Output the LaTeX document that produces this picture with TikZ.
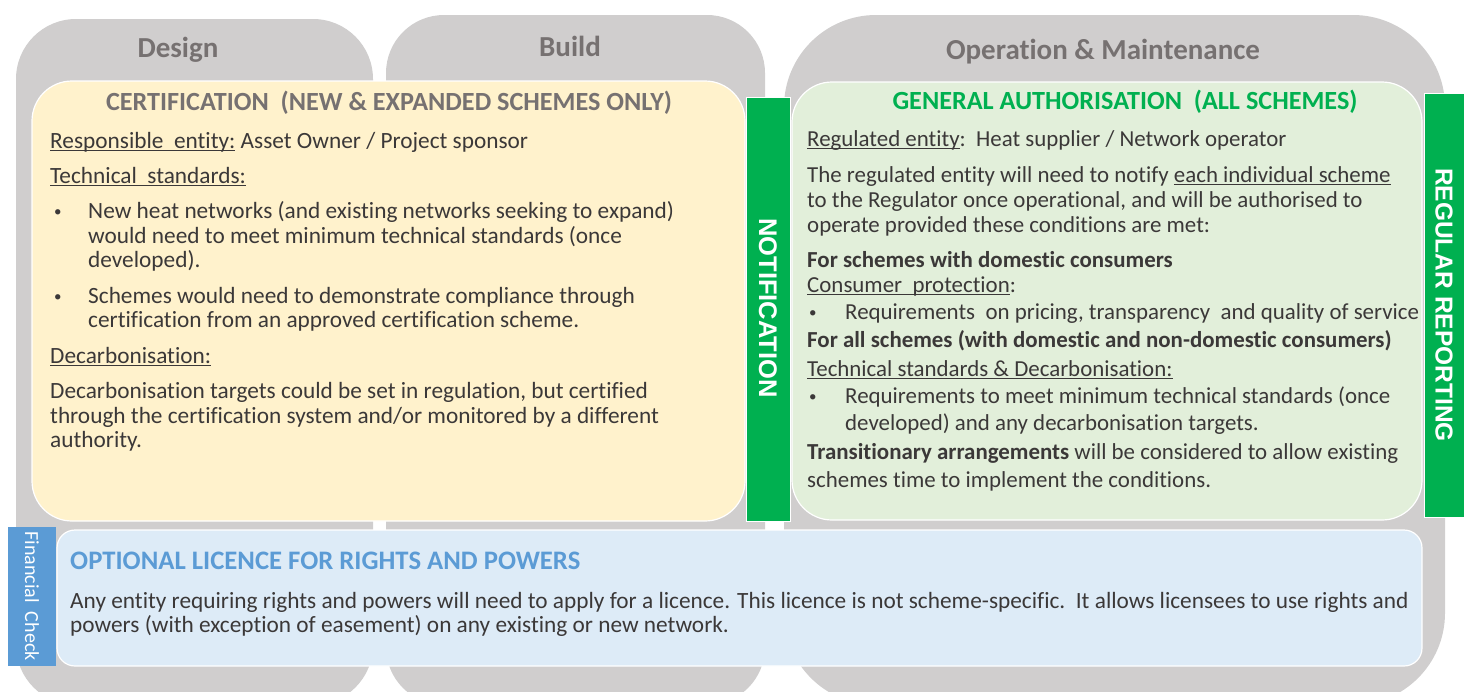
\documentclass[tikz,border=0pt]{standalone}
\usepackage{fontspec}
\setmainfont{Carlito}[Ligatures={NoCommon}]
\newfontfamily\barfont{Liberation Sans}
\definecolor{tabgray}{HTML}{D0CECE}
\definecolor{headgray}{HTML}{767171}
\definecolor{bodytxt}{HTML}{3B3838}
\definecolor{certyel}{HTML}{FFF2CC}
\definecolor{authgrn}{HTML}{E2EFDA}
\definecolor{licblue}{HTML}{DDEBF7}
\definecolor{bargrn}{HTML}{00B050}
\definecolor{fcblue}{HTML}{5B9BD5}
\newcommand{\myul}[1]{\setbox0\hbox{#1}\rlap{\rule[-3pt]{\wd0}{0.9pt}}\box0\relax}
\newcommand{\smbul}{\raisebox{1.5pt}{\fontsize{15}{15}\selectfont •}}
\tikzset{
  tab/.style={fill=tabgray},
  panel/.style={draw=white, line width=1.2pt},
  bar/.style={fill=bargrn, draw=white, line width=0.8pt},
  phase/.style={font=\fontsize{29}{33}\selectfont\bfseries, text=headgray, inner sep=0pt, anchor=base},
  ttl/.style={font=\fontsize{26.2}{30}\selectfont\bfseries, inner sep=0pt, anchor=base},
  ltxt/.style={font=\fontsize{23.3}{26}\selectfont, text=bodytxt, inner sep=0pt, anchor=base west},
  rtxt/.style={font=\fontsize{22.9}{26}\selectfont, text=bodytxt, inner sep=0pt, anchor=base west},
  rbold/.style={rtxt, font=\fontsize{22.9}{26}\selectfont\bfseries},
  btxt/.style={font=\fontsize{23.3}{26}\selectfont, text=bodytxt, inner sep=0pt, anchor=base west},
  bartxt/.style={font=\fontsize{25.5}{28}\selectfont\barfont\bfseries, text=white, rotate=-90, inner sep=0pt},
}
\begin{document}
\begin{tikzpicture}[x=1pt, y=-1pt]
\useasboundingbox (0,0) rectangle (1464,691);
\begin{scope}
\clip (0,0) rectangle (1464,691);
% phase tabs
\fill[tab, rounded corners=60pt] (16,19) rectangle (373,705);
\fill[tab, rounded corners=58pt] (386,15) rectangle (765,705);
\fill[tab, rounded corners=92pt] (784,15) rectangle (1445,705);
\end{scope}
\node[phase] (design) at (178,57) {Design};
\node[phase] (build) at (570,56) {Build};
\node[phase] (om) at (1103,59) {Operation \& Maintenance};

% certification panel
\draw[panel, fill=certyel, rounded corners=40pt] (32,81) rectangle (745,521);
\node[ttl, text=headgray] (certttl) at (389,110) {CERTIFICATION\ \ (NEW \& EXPANDED SCHEMES ONLY)};
\node[ltxt] (c1) at (50,148) {\myul{Responsible\ \ entity:} Asset Owner / Project sponsor};
\node[ltxt] (c2) at (50,183) {\myul{Technical\ \ standards:}};
\node[ltxt] (cb1) at (54,218) {\smbul};
\node[ltxt] (c3) at (88,218) {New heat networks (and existing networks seeking to expand)};
\node[ltxt] (c4) at (88,243) {would need to meet minimum technical standards (once};
\node[ltxt] (c5) at (88,267) {developed).};
\node[ltxt] (cb2) at (54,303) {\smbul};
\node[ltxt] (c6) at (88,303) {Schemes would need to demonstrate compliance through};
\node[ltxt] (c7) at (88,327) {certification from an approved certification scheme.};
\node[ltxt] (c8) at (50,363) {\myul{Decarbonisation:}};
\node[ltxt] (c9) at (50,398) {Decarbonisation targets could be set in regulation, but certified};
\node[ltxt] (c10) at (50,423) {through the certification system and/or monitored by a different};
\node[ltxt] (c11) at (50,447) {authority.};

% notification bar
\draw[bar] (746,97) rectangle (790,521);
\node[bartxt] (notif) at (768,308) {NOTIFICATION};

% general authorisation panel
\draw[panel, fill=authgrn, rounded corners=40pt] (792,82) rectangle (1422,520);
\node[ttl, text=bargrn] (gattl) at (1125,109) {GENERAL AUTHORISATION\ \ (ALL SCHEMES)};
\node[rtxt] (g1) at (807,146) {\myul{Regulated entity}:\ \ Heat supplier / Network operator};
\node[rtxt] (g2) at (807,182) {The regulated entity will need to notify \myul{each individual scheme}};
\node[rtxt] (g3) at (807,207) {to the Regulator once operational, and will be authorised to};
\node[rtxt] (g4) at (807,232) {operate provided these conditions are met:};
\node[rbold] (g5) at (807,267) {For schemes with domestic consumers};
\node[rtxt] (g6) at (807,292) {\myul{Consumer\ \ protection}:};
\node[rtxt] (gb1) at (809,319) {\smbul};
\node[rtxt] (g7) at (845,319) {Requirements\ \ on pricing, transparency\ \ and quality of service};
\node[rbold] (g8) at (807,347) {For all schemes (with domestic and non-domestic consumers)};
\node[rtxt] (g9) at (807,376) {\myul{Technical standards \& Decarbonisation:}};
\node[rtxt] (gb2) at (809,403) {\smbul};
\node[rtxt] (g10) at (845,403) {Requirements to meet minimum technical standards (once};
\node[rtxt] (g11) at (845,430) {developed) and any decarbonisation targets.};
\node[rtxt] (g12) at (807,459) {\textbf{Transitionary arrangements} will be considered to allow existing};
\node[rtxt] (g13) at (807,487) {schemes time to implement the conditions.};

% regular reporting bar
\draw[bar] (1424,93) rectangle (1464,517);
\node[bartxt, font=\fontsize{24.5}{28}\selectfont\barfont\bfseries] (regrep) at (1444,305) {REGULAR REPORTING};

% licence panel
\draw[panel, fill=licblue, rounded corners=18pt] (57,530) rectangle (1422,666);
\node[ttl, text=fcblue, anchor=base west, font=\fontsize{26.7}{30}\selectfont\bfseries] (licttl) at (70,569) {OPTIONAL LICENCE FOR RIGHTS AND POWERS};
\node[btxt] (l1) at (70,608) {Any entity requiring rights and powers will need to apply for a licence. This licence is not scheme-specific.\ \ It allows licensees to use rights and};
\node[btxt] (l2) at (70,632) {powers (with exception of easement) on any existing or new network.};

% financial check
\fill[fcblue] (8,527) rectangle (56,666);
\node[font=\fontsize{20}{24}\selectfont, text=white, rotate=-90, inner sep=0pt] (fincheck) at (32,596) {Financial\ \ Check};
\end{tikzpicture}
\end{document}
